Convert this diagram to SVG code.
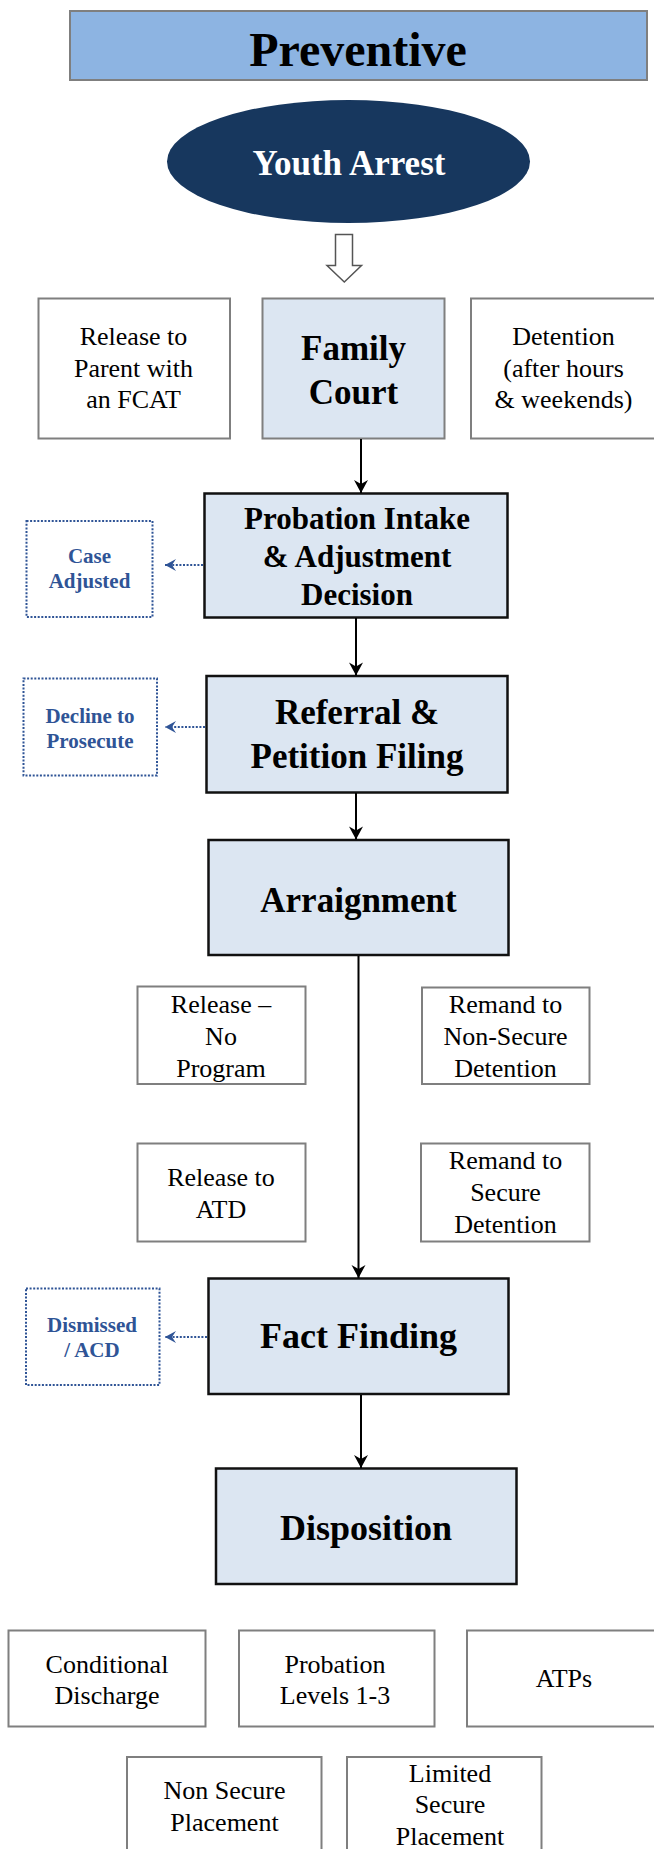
<svg xmlns="http://www.w3.org/2000/svg" width="654" height="1849" viewBox="0 0 654 1849">
<defs>
<marker id="ah" viewBox="-14 -8 15 16" refX="0" refY="0" markerWidth="15" markerHeight="16" markerUnits="userSpaceOnUse" orient="auto">
<path d="M0,0 L-13,-7 L-9,0 L-13,7 Z" fill="#000"/>
</marker>
<marker id="ahb" viewBox="-13 -7 14 14" refX="0" refY="0" markerWidth="14" markerHeight="14" markerUnits="userSpaceOnUse" orient="auto">
<path d="M0,0 L-11,-6 L-7,0 L-11,6 Z" fill="#2F5496"/>
</marker>
</defs>
<style>
text{font-family:"Liberation Serif","Times New Roman",serif;text-anchor:middle}
.main rect{fill:#DCE6F2;stroke:#111;stroke-width:2.5}
.main text{font-weight:bold;fill:#000}
.opt rect{fill:#fff;stroke:#7F7F7F;stroke-width:2}
.opt text{font-size:26px;fill:#000}
.alt rect{fill:#fff;stroke:#2F5496;stroke-width:2;stroke-dasharray:2 1.6}
.alt text{font-size:21px;font-weight:bold;fill:#2F5496}
.conn{stroke:#000;stroke-width:2;fill:none;marker-end:url(#ah)}
.dconn{stroke:#2F5496;stroke-width:2;fill:none;stroke-dasharray:2 1.6;marker-end:url(#ahb)}
</style>
<rect width="654" height="1849" fill="#fff"/>

<g id="preventive">
<rect x="70" y="11" width="577" height="69" fill="#8DB4E2" stroke="#7F7F7F" stroke-width="2"/>
<text x="358" y="66" font-size="48" font-weight="bold">Preventive</text>
</g>

<g id="youth-arrest">
<ellipse cx="348.5" cy="161.5" rx="181.5" ry="61.5" fill="#17375E"/>
<text x="349" y="175" font-size="35" font-weight="bold" fill="#fff">Youth Arrest</text>
</g>

<g id="hollow-arrow">
<path d="M335.5,234.5 L352.5,234.5 L352.5,265.5 L361.5,265.5 L344.3,282 L327,265.5 L335.5,265.5 Z" fill="#fff" stroke="#555" stroke-width="1.5"/>
</g>

<g id="release-parent" class="opt">
<rect x="38.5" y="298.5" width="191.5" height="140"/>
<text x="133.5" y="345">Release to</text>
<text x="133.5" y="376.7">Parent with</text>
<text x="133.5" y="408.3">an FCAT</text>
</g>

<g id="family-court" class="main">
<rect x="262.5" y="298.5" width="182" height="140" style="stroke:#7F7F7F;stroke-width:2"/>
<text x="353.5" y="360" font-size="35">Family</text>
<text x="353.5" y="404" font-size="35">Court</text>
</g>

<g id="detention" class="opt">
<rect x="471" y="298.5" width="190" height="140"/>
<text x="563.5" y="345">Detention</text>
<text x="563.5" y="376.7">(after hours</text>
<text x="563.5" y="408.3">&amp; weekends)</text>
</g>

<g id="probation-intake" class="main">
<rect x="204.5" y="493.5" width="303" height="124"/>
<text x="357" y="528.5" font-size="31">Probation Intake</text>
<text x="357" y="567" font-size="31">&amp; Adjustment</text>
<text x="357" y="605" font-size="31">Decision</text>
</g>

<g id="case-adjusted" class="alt">
<rect x="26.5" y="521" width="126" height="96"/>
<text x="89.5" y="563.3">Case</text>
<text x="89.5" y="588.3">Adjusted</text>
</g>

<g id="referral" class="main">
<rect x="206.5" y="676" width="301" height="116.5"/>
<text x="357" y="724.3" font-size="35">Referral &amp;</text>
<text x="357" y="768.3" font-size="35">Petition Filing</text>
</g>

<g id="decline" class="alt">
<rect x="23.5" y="678.5" width="133.5" height="97"/>
<text x="90" y="722.7">Decline to</text>
<text x="90" y="748.3">Prosecute</text>
</g>

<g id="arraignment" class="main">
<rect x="208.5" y="840" width="300" height="115"/>
<text x="358.5" y="911.7" font-size="35">Arraignment</text>
</g>

<g id="release-no-program" class="opt">
<rect x="137.5" y="986.5" width="168" height="97.5"/>
<text x="221" y="1013.3">Release –</text>
<text x="221" y="1045">No</text>
<text x="221" y="1076.7">Program</text>
</g>

<g id="remand-nonsecure" class="opt">
<rect x="422" y="987.5" width="167.5" height="96.5"/>
<text x="505.5" y="1013.3">Remand to</text>
<text x="505.5" y="1045">Non-Secure</text>
<text x="505.5" y="1076.7">Detention</text>
</g>

<g id="release-atd" class="opt">
<rect x="137.5" y="1143.5" width="168" height="98"/>
<text x="221" y="1186">Release to</text>
<text x="221" y="1217.7">ATD</text>
</g>

<g id="remand-secure" class="opt">
<rect x="421" y="1143.5" width="168.5" height="98"/>
<text x="505.5" y="1169.3">Remand to</text>
<text x="505.5" y="1200.7">Secure</text>
<text x="505.5" y="1232.7">Detention</text>
</g>

<g id="fact-finding" class="main">
<rect x="208.5" y="1278.5" width="300" height="115.5"/>
<text x="358.5" y="1348.3" font-size="36">Fact Finding</text>
</g>

<g id="dismissed" class="alt">
<rect x="26" y="1288.5" width="133.5" height="96.5"/>
<text x="92" y="1331.7">Dismissed</text>
<text x="92" y="1357.3">/ ACD</text>
</g>

<g id="disposition" class="main">
<rect x="216" y="1468.5" width="300.5" height="115.5"/>
<text x="366" y="1540" font-size="36">Disposition</text>
</g>

<g id="conditional-discharge" class="opt">
<rect x="8.5" y="1630.5" width="197" height="96"/>
<text x="107" y="1672.7">Conditional</text>
<text x="107" y="1704.3">Discharge</text>
</g>

<g id="probation-levels" class="opt">
<rect x="239" y="1630.5" width="195.5" height="96"/>
<text x="335" y="1672.7">Probation</text>
<text x="335" y="1704.3">Levels  1-3</text>
</g>

<g id="atps" class="opt">
<rect x="467" y="1630.5" width="195" height="96"/>
<text x="564" y="1687.3">ATPs</text>
</g>

<g id="non-secure-placement" class="opt">
<rect x="127" y="1757" width="194.5" height="100"/>
<text x="224.5" y="1799.3">Non Secure</text>
<text x="224.5" y="1830.7">Placement</text>
</g>

<g id="limited-secure-placement" class="opt">
<rect x="347" y="1757" width="194.5" height="100"/>
<text x="450" y="1781.7">Limited</text>
<text x="450" y="1813.3">Secure</text>
<text x="450" y="1845">Placement</text>
</g>

<g id="connectors">
<line class="conn" x1="361" y1="439" x2="361" y2="493"/>
<line class="conn" x1="356" y1="618" x2="356" y2="675.5"/>
<line class="conn" x1="356" y1="793" x2="356" y2="839.5"/>
<line class="conn" x1="358.5" y1="956" x2="358.5" y2="1278"/>
<line class="conn" x1="361" y1="1395" x2="361" y2="1468"/>
<line class="dconn" x1="203" y1="565" x2="165" y2="565"/>
<line class="dconn" x1="205" y1="727" x2="165" y2="727"/>
<line class="dconn" x1="207" y1="1337" x2="165" y2="1337"/>
</g>
</svg>
